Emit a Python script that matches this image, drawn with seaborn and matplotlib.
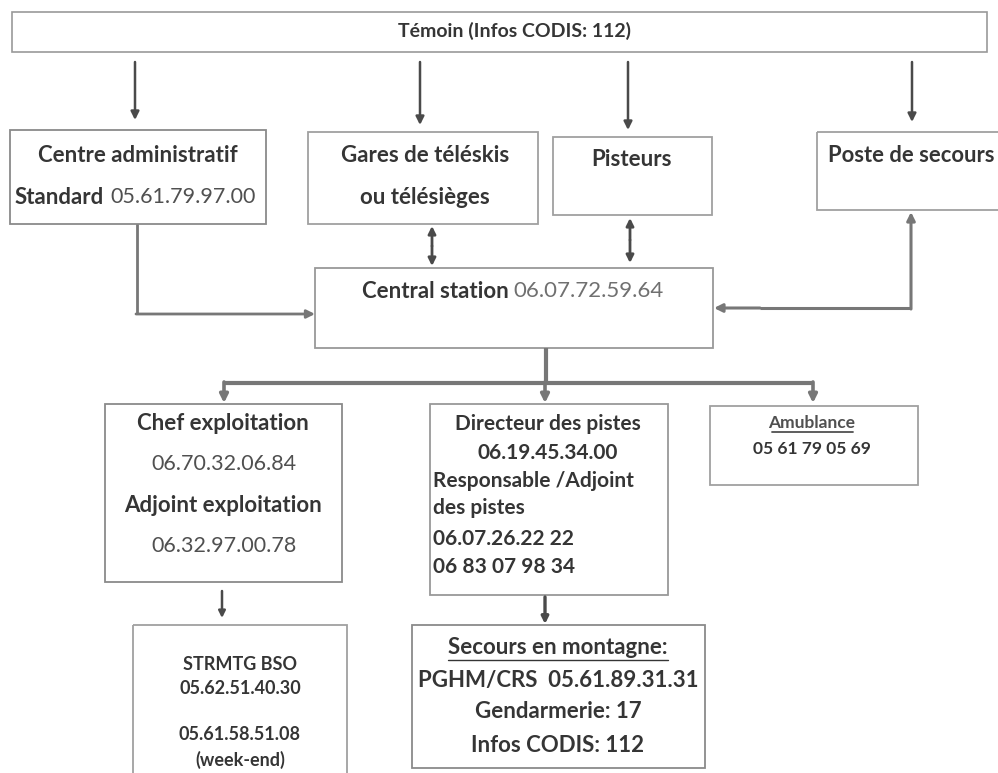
import matplotlib
matplotlib.use("Agg")
import matplotlib.pyplot as plt
import seaborn as sns
from matplotlib.patches import Rectangle

sns.set_theme(style="white")
plt.rcParams['font.family'] = ['Lato', 'DejaVu Sans']

# ---- content (texts of the flowchart) ----
top_label = "Témoin (Infos CODIS: 112)"
admin_lines = ["Centre administratif"]
admin_std = ["Standard", "05.61.79.97.00"]
gares_lines = ["Gares de téléskis", "ou télésièges"]
pisteurs_lines = ["Pisteurs"]
poste_lines = ["Poste de secours"]
central_parts = ["Central station", "06.07.72.59.64"]
chef_lines = ["Chef exploitation", "06.70.32.06.84", "Adjoint exploitation", "06.32.97.00.78"]
directeur_lines = ["Directeur des pistes", "06.19.45.34.00"]
directeur_left = ["Responsable /Adjoint", "des pistes", "06.07.26.22 22", "06 83 07 98 34"]
ambulance_lines = ["Amublance", "05 61 79 05 69"]
strmtg_lines = ["STRMTG BSO", "05.62.51.40.30", "05.61.58.51.08", "(week-end)"]
secours_lines = ["Secours en montagne:", "PGHM/CRS  05.61.89.31.31", "Gendarmerie: 17", "Infos CODIS: 112"]

W, H = 998, 773
fig = plt.figure(figsize=(W / 100, H / 100), dpi=100)
ax = fig.add_axes([0, 0, 1, 1])
ax.set_xlim(0, W)
ax.set_ylim(H, 0)
ax.axis("off")

DARK = "#353535"
MID = "#505050"
LIGHT = "#707070"
BOX = "#8a8a8a"
ARROW = "#4a4a4a"
ARROW2 = "#777777"


def box(x0, y0, x1, y1, lw=1.3, color=BOX):
    ax.add_patch(Rectangle((x0, y0), x1 - x0, y1 - y0, fill=False,
                           edgecolor=color, linewidth=lw))


def txt(x, y, s, size=16, weight="bold", color=DARK, ha="center"):
    return ax.text(x, y, s, fontsize=size, fontweight=weight, color=color,
                   ha=ha, va="center")


def arrow(x0, y0, x1, y1, color=ARROW, lw=1.8, style="-|>", ms=12):
    ax.annotate("", xy=(x1, y1), xytext=(x0, y0),
                arrowprops=dict(arrowstyle=style, color=color, lw=lw,
                                mutation_scale=ms, shrinkA=0, shrinkB=0))


def line(xs, ys, color=ARROW, lw=1.8):
    ax.plot(xs, ys, color=color, lw=lw, solid_capstyle="butt")


def underline(x0, x1, y, color=DARK, lw=1.0):
    ax.plot([x0, x1], [y, y], color=color, lw=lw)


# ---- top box ----
box(12, 12, 987, 52, lw=1.2, color="#999999")
txt(515, 31, top_label, size=14)

# arrows from top
for xa, yb in [(135, 120), (420, 125), (628, 130), (912, 122)]:
    arrow(xa, 62, xa, yb)

# ---- second row ----
box(10, 130, 266, 224)
txt(138, 155, admin_lines[0], size=16)
txt(104, 197, admin_std[0], size=16, ha="right")
txt(110, 197, admin_std[1], size=15.5, weight="normal", color=MID, ha="left")

box(308, 132, 538, 224, color="#a0a0a0")
txt(425, 155, gares_lines[0], size=16)
txt(425, 198, gares_lines[1], size=16)

box(553, 137, 712, 215, color="#a0a0a0")
txt(632, 160, pisteurs_lines[0], size=16)

box(817, 132, 1005, 210, color="#a0a0a0")
txt(828, 155, poste_lines[0], size=15.8, ha="left")

# ---- central station ----
box(315, 268, 713, 348, color="#999999")
txt(509, 291, central_parts[0], size=16, ha="right")
txt(513, 291, central_parts[1], size=16, weight="normal", color=LIGHT, ha="left")

# admin -> central
line([137, 137], [224, 314], color=ARROW2, lw=2.0)
arrow(136, 314, 315, 314, color=ARROW2, lw=2.0)
# gares <-> central, pisteurs <-> central
arrow(432, 246, 432, 226, lw=2.0, ms=11)
arrow(432, 246, 432, 266, lw=2.0, ms=11)
arrow(630, 240, 630, 218, lw=2.0, ms=11)
arrow(630, 240, 630, 263, lw=2.0, ms=11)
# poste <-> central
line([760, 911], [308, 308], color=ARROW2, lw=2.2)
arrow(911, 309, 911, 212, color=ARROW2, lw=2.2)
arrow(760, 308, 714, 308, color=ARROW2, lw=2.2)

# central -> bottom row
line([546, 546], [348, 383], color=ARROW2, lw=3.0)
line([223, 814], [383, 383], color=ARROW2, lw=3.0)
for xa in [224, 545, 813]:
    arrow(xa, 382, xa, 403, color=ARROW2, lw=2.6, ms=12)

# ---- chef exploitation ----
box(105, 404, 342, 582, color="#8a8a8a")
txt(223, 423, chef_lines[0], size=16)
txt(224, 464, chef_lines[1], size=15.5, weight="normal", color=MID)
txt(223, 505, chef_lines[2], size=16)
txt(224, 546, chef_lines[3], size=15.5, weight="normal", color=MID)

# ---- directeur ----
box(430, 404, 668, 595, color="#999999")
txt(548, 424, directeur_lines[0], size=15)
txt(548, 453, directeur_lines[1], size=15)
for yy, s in zip([481, 508, 539, 567], directeur_left):
    txt(433, yy, s, size=15, ha="left")

# ---- ambulance ----
box(710, 406, 918, 485, color="#a0a0a0")
txt(812, 423, ambulance_lines[0], size=12.5, color=MID)
underline(772, 853, 432, color=MID, lw=1.3)
txt(812, 449, ambulance_lines[1], size=12.5)

# arrows to last row
arrow(222, 591, 222, 618, lw=1.8, ms=10)
arrow(545, 597, 545, 624, lw=2.4, ms=10)

# ---- STRMTG ----
box(133, 625, 347, 778, color="#a0a0a0")
for yy, s in zip([664, 688, 735, 760], strmtg_lines):
    txt(240, yy, s, size=13)

# ---- secours ----
box(412, 625, 705, 768, color="#8a8a8a")
txt(558, 647, secours_lines[0], size=16)
underline(448, 668, 660)
txt(558, 680, secours_lines[1], size=16)
txt(558, 712, secours_lines[2], size=16)
txt(558, 745, secours_lines[3], size=16)

fig.savefig("out.png", dpi=100, facecolor="white")
